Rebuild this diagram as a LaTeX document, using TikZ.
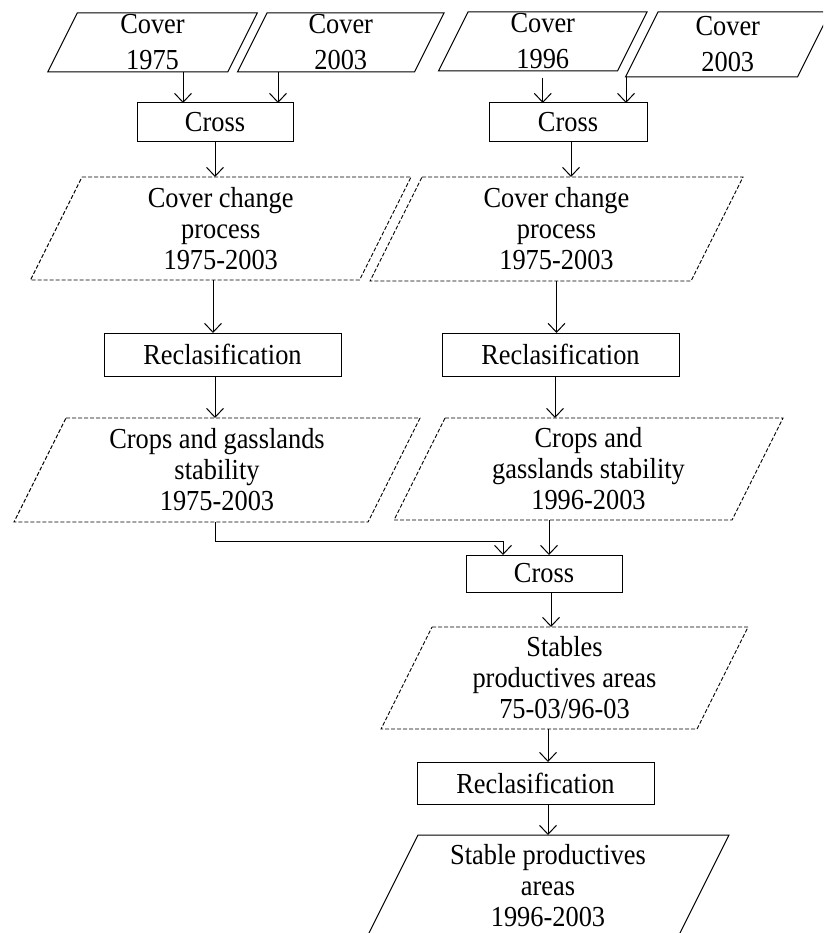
\documentclass[tikz,border=0pt]{standalone}
\usepackage{fontspec}
\setmainfont{Liberation Serif}[FakeStretch=0.91]
\usetikzlibrary{arrows.meta}

% Data (parallelogram) node: invisible W x h box, slanted outline, text on top.
% #1 outline style, #2 name, #3 x, #4 y, #5 top-edge width, #6 height, #7 text
\newcommand\datanode[7]{%
  \node[databody, minimum width=#5pt, minimum height=#6pt] (#2) at (#3,#4) {};
  \draw[#1] ([xshift=#6pt/4]#2.north west) -- ([xshift=#6pt/4]#2.north east)
    -- ([xshift=-#6pt/4]#2.south east) -- ([xshift=-#6pt/4]#2.south west) -- cycle;
  \node[datatext] (#2-t) at (#2.center) {#7};
}

\begin{document}
\begin{tikzpicture}[x=1pt, y=-1pt,
  databody/.style={shape=rectangle, draw=none, inner sep=0pt, outer sep=0pt},
  datatext/.style={align=center, inner sep=0pt, font=\fontsize{29}{31}\selectfont},
  covertext/.style={datatext, font=\fontsize{29}{36}\selectfont},
  solidline/.style={draw=black, line width=1pt},
  dashline/.style={draw=black, line width=0.9pt, dash pattern=on 4pt off 2pt},
  procbox/.style={draw=black, line width=1pt, rectangle, inner sep=0pt, outer sep=0pt,
    font=\fontsize{29}{31}\selectfont},
  arr/.style={draw=black, line width=1pt, -{Straight Barb[length=9pt, width=17pt]}}]

\useasboundingbox (0,0) rectangle (823,933);
\clip (0,0) rectangle (823,933);

% ---- inputs ----
\datanode{solidline}{c75}{152.5}{42.5}{180}{59}{}
\node[covertext] at (c75.center) {Cover\\1975};
\datanode{solidline}{c03a}{340.75}{42.5}{177}{59}{}
\node[covertext] at (c03a.center) {Cover\\2003};
\datanode{solidline}{c96}{542.75}{41.5}{179}{59}{}
\node[covertext] at (c96.center) {Cover\\1996};
\datanode{solidline}{c03b}{727.75}{44.5}{172}{65}{}
\node[covertext] at (c03b.center) {Cover\\2003};

% ---- first crossings ----
\node[procbox, minimum width=156pt, minimum height=39pt] (crossA) at (215,122.5) {Cross};
\node[procbox, minimum width=158pt, minimum height=39pt] (crossB) at (568,122.5) {Cross};

\draw[arr] ([xshift=30.5pt]c75.south) -- ([xshift=30.5pt]c75.south |- crossA.north);
\draw[arr] ([xshift=-62.75pt]c03a.south) -- ([xshift=-62.75pt]c03a.south |- crossA.north);
\draw[arr] ([yshift=-7pt]c96.south) -- (c96.south |- crossB.north);
\draw[arr] ([xshift=-101.75pt]c03b.south) -- ([xshift=-101.75pt]c03b.south |- crossB.north);

% ---- change processes ----
\datanode{dashline}{ccpA}{220.75}{228.5}{329}{103}{Cover change\\process\\1975-2003}
\datanode{dashline}{ccpB}{556.5}{229}{321}{104}{Cover change\\process\\1975-2003}

\draw[arr] (crossA.south) -- (crossA.south |- ccpA.north);
\draw[arr] ([xshift=3pt]crossB.south) -- ([xshift=3pt]crossB.south |- ccpB.north);

% ---- reclassifications ----
\node[procbox, minimum width=237pt, minimum height=43pt] (recA) at (222.5,354.5) {Reclasification};
\node[procbox, minimum width=237pt, minimum height=43pt] (recB) at (560.5,354.5) {Reclasification};

\draw[arr] ([xshift=-7.75pt]ccpA.south) -- ([xshift=-7.75pt]ccpA.south |- recA.north);
\draw[arr] (ccpB.south) -- (ccpB.south |- recB.north);

% ---- stability layers ----
\datanode{dashline}{cropA}{217}{470}{354}{104}{Crops and gasslands\\stability\\1975-2003}
\datanode{dashline}{cropB}{588.5}{469}{338}{102}{Crops and\\gasslands stability\\1996-2003}

\draw[arr] ([xshift=-7.5pt]recA.south) -- ([xshift=-7.5pt]recA.south |- cropA.north);
\draw[arr] ([xshift=-5.5pt]recB.south) -- ([xshift=-5.5pt]recB.south |- cropB.north);

% ---- combined crossing ----
\node[procbox, minimum width=156pt, minimum height=37pt] (crossC) at (544,573.5) {Cross};

\draw[arr] ([xshift=-2pt]cropA.south) -- ++(0,19) -| ([xshift=-41pt]crossC.north);
\draw[arr] ([xshift=-39.5pt]cropB.south) -- ([xshift=-39.5pt]cropB.south |- crossC.north);

% ---- result ----
\datanode{dashline}{stab}{564.5}{678}{316}{102}{Stables\\productives areas\\75-03/96-03}
\draw[arr] ([xshift=7pt]crossC.south) -- ([xshift=7pt]crossC.south |- stab.north);

\node[procbox, minimum width=237pt, minimum height=42pt] (recC) at (535.5,783) {Reclasification};
\draw[arr] ([xshift=-16.5pt]stab.south) -- ([xshift=-16.5pt]stab.south |- recC.north);

\datanode{solidline}{final}{548}{886}{311}{102}{Stable productives\\areas\\1996-2003}
\draw[arr] ([xshift=12.5pt]recC.south) -- ([xshift=12.5pt]recC.south |- final.north);

\end{tikzpicture}
\end{document}
